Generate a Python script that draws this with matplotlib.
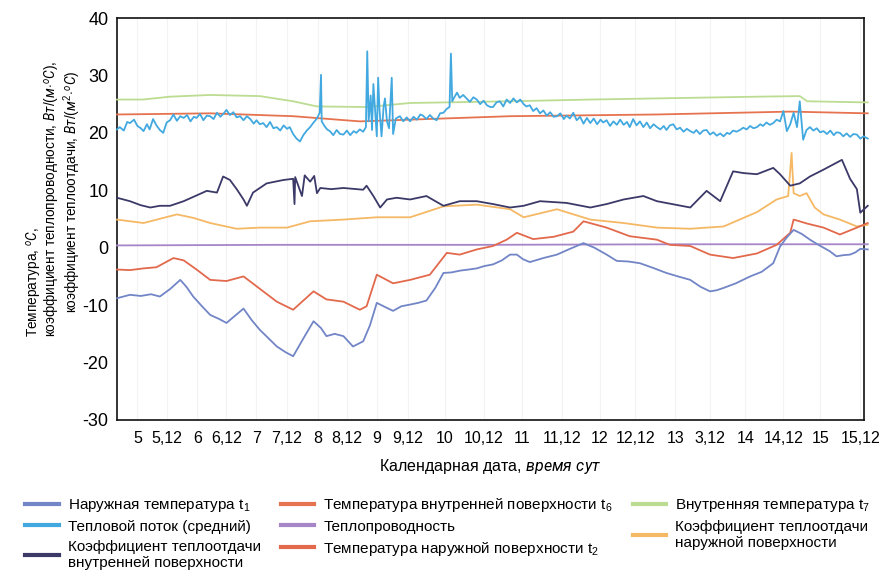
import matplotlib
matplotlib.use("Agg")
import matplotlib.pyplot as plt
from matplotlib.lines import Line2D

plt.rcParams['font.family'] = ['Liberation Sans', 'DejaVu Sans']
plt.rcParams['mathtext.fontset'] = 'custom'
plt.rcParams['mathtext.rm'] = 'Liberation Sans'
plt.rcParams['mathtext.it'] = 'Roboto:italic'
plt.rcParams['axes.unicode_minus'] = False

# x values are calendar days (day of month, fractional)
tick_pos = [5.00, 5.43, 5.88, 6.31, 6.75, 7.20, 7.65, 8.08, 8.52, 8.98, 9.52,
            10.09, 10.65, 11.24, 11.80, 12.32, 12.91, 13.42, 13.94, 14.50, 15.04, 15.63]
tick_labels = ['5', '5,12', '6', '6,12', '7', '7,12', '8', '8,12', '9', '9,12', '10',
               '10,12', '11', '11,12', '12', '12,12', '13', '3,12', '14', '14,12', '15', '15,12']

# Наружная температура t1
t1_x = [4.70, 4.89, 5.05, 5.20, 5.33, 5.48, 5.63, 5.72, 5.82, 5.95, 6.07, 6.20, 6.31, 6.42,
        6.56, 6.68, 6.80, 6.93, 7.05, 7.18, 7.29, 7.45, 7.59, 7.70, 7.78, 7.90, 8.03, 8.17,
        8.32, 8.42, 8.52, 8.62, 8.76, 8.88, 9.01, 9.13, 9.25, 9.38, 9.50, 9.62, 9.74, 9.87,
        9.99, 10.10, 10.23, 10.36, 10.48, 10.58, 10.67, 10.77, 10.97, 11.17, 11.36, 11.56,
        11.72, 11.90, 12.05, 12.22, 12.39, 12.58, 12.78, 12.95, 13.13, 13.28, 13.42, 13.52,
        13.62, 13.80, 14.01, 14.18, 14.35, 14.45, 14.55, 14.65, 14.77, 14.89, 15.00, 15.09,
        15.18, 15.28, 15.38, 15.48, 15.56, 15.63, 15.74]
t1_y = [-8.8, -8.2, -8.4, -8.1, -8.5, -7.2, -5.6, -6.8, -8.5, -10.2, -11.7, -12.4, -13.1, -12.0,
        -10.6, -12.6, -14.3, -15.8, -17.2, -18.2, -18.9, -15.6, -12.8, -14.0, -15.4, -15.0,
        -15.4, -17.2, -16.3, -13.5, -9.6, -10.2, -11.0, -10.2, -9.9, -9.6, -9.2, -7.0, -4.4,
        -4.3, -4.0, -3.8, -3.6, -3.2, -2.9, -2.2, -1.2, -1.2, -2.0, -2.5, -1.8, -1.2, -0.2,
        0.8, 0.0, -1.2, -2.3, -2.4, -2.7, -3.5, -4.4, -5.0, -5.6, -6.8, -7.6, -7.4, -7.0,
        -6.2, -5.0, -4.2, -2.7, 0.2, 1.8, 3.1, 2.4, 1.4, 0.6, 0.0, -0.6, -1.5, -1.3, -1.2,
        -0.8, -0.2, -0.3]

# Тепловой поток (средний)
flux_x = [4.70, 4.74, 4.80, 4.85, 4.89, 4.95, 5.00, 5.05, 5.09, 5.14, 5.18, 5.23, 5.28, 5.33,
          5.38, 5.43, 5.48, 5.53, 5.58, 5.63, 5.68, 5.73, 5.78, 5.83, 5.87, 5.92, 5.97, 6.02,
          6.07, 6.12, 6.17, 6.22, 6.27, 6.31, 6.36, 6.41, 6.46, 6.51, 6.56, 6.61, 6.66, 6.71,
          6.75, 6.80, 6.85, 6.90, 6.95, 7.00, 7.05, 7.10, 7.15, 7.20, 7.24, 7.29, 7.34, 7.39,
          7.44, 7.49, 7.54, 7.59, 7.64, 7.68, 7.70, 7.71, 7.75, 7.79, 7.83, 7.88, 7.93, 7.98,
          8.03, 8.08, 8.13, 8.18, 8.22, 8.27, 8.32, 8.36, 8.38, 8.40, 8.43, 8.45, 8.47, 8.50,
          8.52, 8.54, 8.56, 8.59, 8.62, 8.64, 8.67, 8.70, 8.74, 8.76, 8.80, 8.86, 8.91, 8.96,
          9.01, 9.06, 9.11, 9.16, 9.20, 9.25, 9.30, 9.35, 9.40, 9.45, 9.50, 9.55, 9.59, 9.61,
          9.63, 9.66, 9.70, 9.74, 9.79, 9.84, 9.89, 9.94, 9.99, 10.04, 10.09, 10.14, 10.19,
          10.23, 10.28, 10.33, 10.38, 10.43, 10.48, 10.53, 10.58, 10.63, 10.68, 10.72, 10.77,
          10.82, 10.87, 10.92, 10.97, 11.02, 11.07, 11.12, 11.17, 11.22, 11.27, 11.31, 11.36,
          11.41, 11.46, 11.51, 11.56, 11.61, 11.66, 11.71, 11.76, 11.81, 11.85, 11.90, 11.95,
          12.00, 12.05, 12.10, 12.15, 12.20, 12.24, 12.29, 12.34, 12.39, 12.44, 12.49, 12.54,
          12.59, 12.64, 12.69, 12.74, 12.78, 12.83, 12.88, 12.93, 12.98, 13.03, 13.08, 13.13,
          13.18, 13.22, 13.27, 13.32, 13.37, 13.42, 13.47, 13.52, 13.57, 13.62, 13.67, 13.71,
          13.76, 13.81, 13.86, 13.91, 13.96, 14.01, 14.06, 14.11, 14.16, 14.20, 14.25, 14.30,
          14.35, 14.40, 14.45, 14.50, 14.55, 14.60, 14.65, 14.70, 14.74, 14.79, 14.84, 14.89,
          14.94, 14.99, 15.04, 15.09, 15.14, 15.19, 15.24, 15.28, 15.33, 15.38, 15.43, 15.48,
          15.53, 15.58, 15.63, 15.68, 15.74]
flux_y = [20.6, 21.0, 20.4, 21.9, 21.7, 22.3, 21.2, 20.8, 20.3, 21.5, 20.6, 22.4, 21.3, 20.5,
          20.0, 21.8, 22.2, 23.2, 22.1, 22.9, 22.6, 23.1, 22.0, 22.8, 22.6, 23.3, 22.2, 23.0,
          22.9, 22.4, 23.5, 22.8, 23.4, 24.0, 23.1, 23.6, 22.7, 22.9, 22.2, 22.9, 22.4, 21.6,
          22.2, 21.5, 21.7, 21.0, 21.9, 20.8, 21.0, 20.4, 21.3, 20.7, 21.0, 19.8, 19.0, 18.5,
          19.6, 20.4, 21.0, 21.8, 22.5, 23.5, 30.1, 22.0, 21.2, 20.6, 20.3, 19.6, 20.5, 19.8,
          19.7, 20.4, 19.6, 20.3, 20.0, 20.6, 20.2, 21.0, 34.2, 22.0, 26.5, 20.5, 28.5, 23.0,
          19.4, 29.6, 24.0, 19.4, 24.5, 26.0, 22.0, 20.8, 29.6, 19.8, 22.5, 22.9, 22.0, 22.7,
          22.0, 22.8, 22.3, 23.2, 23.0, 22.4, 23.1, 22.5, 22.2, 23.4, 23.5, 24.2, 24.5, 33.8,
          25.5, 26.2, 27.0, 26.1, 26.6, 26.0, 25.4, 26.2, 25.8, 25.0, 25.6, 24.8, 24.5,
          24.5, 25.3, 25.5, 24.6, 25.8, 25.2, 26.0, 25.3, 25.8, 25.0, 24.6, 24.8,
          23.8, 24.3, 23.4, 23.9, 23.0, 23.6, 22.8, 22.9, 23.4, 22.4, 23.0, 22.5,
          23.5, 22.2, 22.8, 21.6, 22.6, 21.7, 22.5, 21.5, 22.3, 21.8, 22.2, 21.2,
          22.0, 21.4, 22.3, 21.4, 21.9, 21.0, 22.4, 21.3, 22.0, 21.0, 21.8, 20.8,
          21.5, 21.0, 20.6, 21.2, 20.5, 21.3, 21.5, 20.6, 20.9, 20.2, 20.7, 20.3,
          20.0, 20.5, 19.8, 20.4, 20.5, 19.7, 20.1, 19.5, 19.9, 19.4, 20.0, 19.8,
          20.4, 20.2, 20.5, 20.9, 20.6, 21.2, 20.8, 21.0, 21.5, 21.2, 21.8, 21.4,
          21.7, 22.3, 22.0, 23.8, 20.3, 21.5, 23.5, 21.0, 25.5, 18.8, 20.5, 21.0,
          20.4, 20.8, 20.1, 20.3, 19.8, 20.4, 19.6, 20.1, 20.0, 19.4, 19.9, 19.3,
          19.8, 19.7, 19.0, 19.4, 19.0]

# Коэффициент теплоотдачи внутренней поверхности
cin_x = [4.70, 4.89, 5.05, 5.19, 5.33, 5.48, 5.68, 5.85, 6.02, 6.17, 6.26, 6.36, 6.46, 6.56,
         6.61, 6.70, 6.90, 7.15, 7.29, 7.31, 7.32, 7.42, 7.46, 7.54, 7.60, 7.64, 7.69, 7.85,
         8.03, 8.32, 8.37, 8.47, 8.57, 8.67, 8.81, 9.01, 9.25, 9.50, 9.74, 9.99, 10.23,
         10.48, 10.68, 10.92, 11.31, 11.66, 11.90, 12.15, 12.44, 12.64, 13.13, 13.37, 13.57,
         13.76, 13.91, 14.11, 14.35, 14.45, 14.60, 14.74, 14.89, 15.09, 15.36, 15.48, 15.58,
         15.63, 15.74]
cin_y = [8.7, 8.1, 7.4, 7.0, 7.3, 7.3, 8.1, 9.0, 9.9, 9.6, 12.4, 11.8, 10.2, 8.4,
         7.3, 9.6, 11.2, 11.8, 12.0, 7.6, 12.3, 9.0, 12.6, 11.5, 12.5, 9.5, 10.4, 10.2,
         10.4, 10.1, 10.8, 9.0, 7.0, 8.4, 8.7, 8.4, 9.0, 7.3, 8.1, 8.1, 7.6,
         7.0, 7.3, 8.1, 7.8, 7.0, 7.6, 8.4, 9.0, 8.1, 7.0, 9.9, 8.1,
         13.3, 13.0, 12.8, 13.9, 12.8, 10.8, 11.2, 12.4, 13.6, 15.3, 12.0, 10.2,
         6.1, 7.3]

# Температура внутренней поверхности t6
t6_x = [4.70, 6.07, 7.29, 8.27, 9.01, 10.48, 12.64, 14.60, 15.74]
t6_y = [23.2, 23.4, 22.9, 22.0, 22.3, 22.9, 23.2, 23.7, 23.4]

# Теплопроводность
cond_x = [4.70, 7.00, 10.00, 13.00, 15.74]
cond_y = [0.4, 0.5, 0.5, 0.6, 0.6]

# Температура наружной поверхности t2
t2_x = [4.70, 4.89, 5.09, 5.28, 5.53, 5.68, 5.87, 6.07, 6.31, 6.56, 6.75, 7.05, 7.29, 7.59,
        7.78, 8.03, 8.27, 8.37, 8.52, 8.76, 9.01, 9.30, 9.55, 9.74, 9.99, 10.23, 10.43,
        10.58, 10.82, 11.12, 11.41, 11.56, 11.90, 12.24, 12.64, 12.83, 13.13, 13.42, 13.76,
        14.11, 14.40, 14.60, 14.65, 14.85, 15.09, 15.33, 15.58, 15.74]
t2_y = [-3.8, -3.9, -3.6, -3.4, -1.8, -2.2, -3.8, -5.6, -5.8, -5.0, -6.7, -9.4, -10.8, -7.6,
        -9.0, -9.4, -10.8, -10.2, -4.7, -6.2, -5.6, -4.7, -0.9, -1.2, -0.3, 0.3, 1.4,
        2.6, 1.5, 1.9, 2.8, 4.6, 3.5, 2.0, 1.4, 0.5, 0.3, -1.2, -1.8,
        -1.0, 0.5, 2.6, 4.9, 4.2, 3.5, 2.3, 3.5, 4.3]

# Внутренняя температура t7
t7_x = [4.70, 5.08, 5.48, 6.07, 6.80, 7.29, 7.64, 8.38, 9.01, 10.48, 11.66, 14.11, 14.74,
        14.85, 15.74]
t7_y = [25.8, 25.8, 26.3, 26.6, 26.4, 25.5, 24.6, 24.5, 25.2, 25.5, 25.8, 26.3, 26.4,
        25.5, 25.3]

# Коэффициент теплоотдачи наружной поверхности
cout_x = [4.70, 5.09, 5.58, 5.82, 6.07, 6.46, 6.80, 7.20, 7.54, 8.03, 8.52, 9.01, 9.50,
          9.99, 10.48, 10.68, 11.17, 11.66, 12.15, 12.64, 13.13, 13.62, 14.11, 14.40, 14.57,
          14.62, 14.65, 14.74, 14.84, 14.96, 15.09, 15.33, 15.58, 15.74]
cout_y = [4.9, 4.3, 5.8, 5.2, 4.3, 3.3, 3.5, 3.5, 4.6, 4.9, 5.3, 5.3, 7.2,
          7.5, 6.7, 5.3, 6.7, 4.9, 4.3, 3.5, 3.3, 3.7, 6.2, 8.4, 9.0,
          16.5, 9.5, 9.0, 9.5, 7.0, 5.8, 4.9, 3.7, 4.0]

series = [
    ('Наружная температура t$_1$', t1_x, t1_y, '#7285c6'),
    ('Тепловой поток (средний)', flux_x, flux_y, '#42a9e0'),
    ('Коэффициент теплоотдачи\nвнутренней поверхности', cin_x, cin_y, '#3b3968'),
    ('Температура внутренней поверхности t$_6$', t6_x, t6_y, '#e6734f'),
    ('Теплопроводность', cond_x, cond_y, '#a686c8'),
    ('Температура наружной поверхности t$_2$', t2_x, t2_y, '#e2694c'),
    ('Внутренняя температура t$_7$', t7_x, t7_y, '#bcdc92'),
    ('Коэффициент теплоотдачи\nнаружной поверхности', cout_x, cout_y, '#f5b865'),
]
draw_order = [6, 3, 4, 7, 5, 0, 2, 1]

fig = plt.figure(figsize=(8.96, 5.77), dpi=100)
ax = fig.add_axes([0.1306, 0.2721, 0.8337, 0.6967])

for i in draw_order:
    label, xs, ys, col = series[i]
    ax.plot(xs, ys, color=col, lw=1.3, clip_on=False, zorder=3 + draw_order.index(i) * 0.1)

ax.set_xlim(4.7, 15.685)
ax.set_ylim(-30, 40)
ax.set_yticks(range(-30, 41, 10))
ax.set_xticks(tick_pos)
ax.set_xticklabels(tick_labels)
ax.tick_params(axis='both', length=0)
ax.tick_params(axis='y', pad=6, labelsize=13)
ax.tick_params(axis='x', pad=8, labelsize=11.5)
ax.grid(axis='x', color='#f3f3f3', lw=0.8)
for s in ax.spines.values():
    s.set_linewidth(1.2)
    s.set_color('#111111')

ax.set_xlabel('Календарная дата, $\\mathit{время\\ сут}$', fontsize=11.5, labelpad=8)

# y label, three lines
fig.text(35 / 896, 1 - 337 / 577, 'Температура, $^o$$\\mathit{C}$,', rotation=90,
         ha='center', va='bottom', fontsize=9.8)
fig.text(53 / 896, 1 - 337 / 577,
         'коэффициент теплопроводности, $\\mathit{Вт/(м{\\cdot}^oC)}$,', rotation=90,
         ha='center', va='bottom', fontsize=9.8)
fig.text(72 / 896, 1 - 313 / 577,
         'коэффициент теплоотдачи, $\\mathit{Вт/(м^2{\\cdot}^oC)}$', rotation=90,
         ha='center', va='bottom', fontsize=9.8)

handles = [Line2D([], [], color=c, lw=3) for _, _, _, c in series]
labels = [s[0] for s in series]
fig.legend(handles, labels, loc='upper left', bbox_to_anchor=(25 / 896, 1 - 496 / 577),
           ncol=3, frameon=False, fontsize=11, borderpad=0, borderaxespad=0,
           handlelength=2.2, handletextpad=0.6, columnspacing=1.3, labelspacing=0.38)

fig.savefig('out.png', dpi=100)
